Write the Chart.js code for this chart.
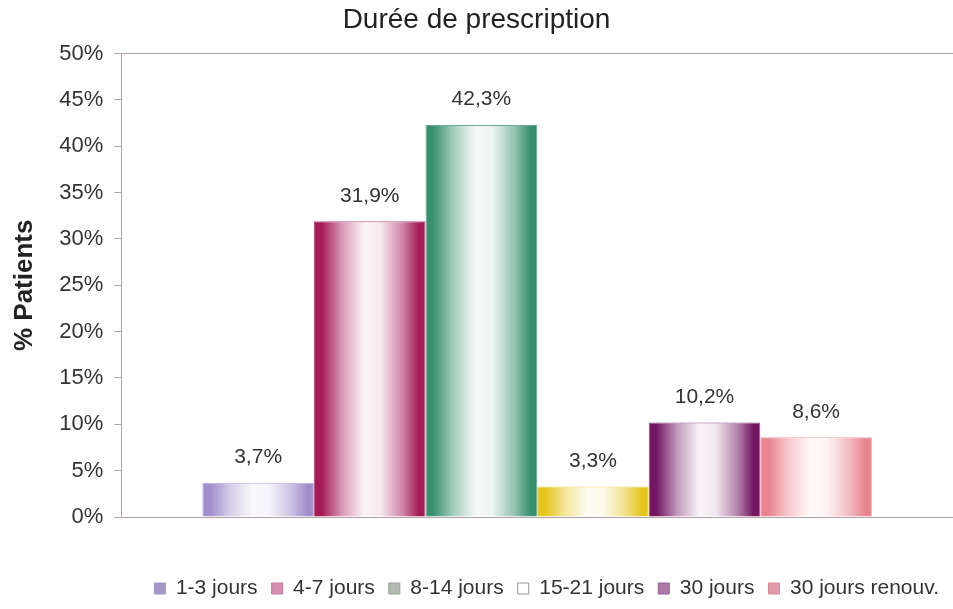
<!DOCTYPE html>
<html><head><meta charset="utf-8">
<script src="https://cdn.jsdelivr.net/npm/chart.js@4/dist/chart.umd.min.js"></script>
<style>html,body{margin:0;padding:0;background:#fff}#wrap{width:953px;height:609px;position:relative}</style>
</head><body><div id="wrap"><canvas id="c"></canvas></div>
<script>
const categories = ['Durée de prescription'];
const seriesNames = ['1-3 jours', '4-7 jours', '8-14 jours', '15-21 jours', '30 jours', '30 jours renouv.'];
const seriesValues = [3.7, 31.9, 42.3, 3.3, 10.2, 8.6];
const yTickMin = 0, yTickMax = 50, yTickStep = 5;

const barColors = ['#9f8fcb', '#a51b57', '#38906f', '#e4c51c', '#741763', '#e8848d'];
const legendColors = ['#a596c9', '#d68fae', '#b2bab2', '#ffffff', '#ad78a6', '#e39aa8'];
const legendBorders = ['#a596c9', '#c97a9c', '#98a098', '#9a9a9a', '#96608f', '#d8899a'];
const lineColor = '#b3a0ab';
const FONT = '"Liberation Sans", Arial, sans-serif';
const CAT_PCT = 0.805;

function mix(hex, t) {
  const n = parseInt(hex.slice(1), 16);
  const r = (n >> 16) & 255, g = (n >> 8) & 255, b = n & 255;
  const m = v => Math.round(v + (255 - v) * t);
  return `rgb(${m(r)},${m(g)},${m(b)})`;
}

function barFill(i) {
  return (ctx) => {
    const chart = ctx.chart, xs = chart.scales.x;
    if (!xs || !chart.chartArea) return barColors[i];
    const n = seriesNames.length;
    const group = xs.width * CAT_PCT;
    const bw = group / n;
    const left = xs.getPixelForValue(ctx.dataIndex || 0) - group / 2 + i * bw;
    const g = chart.ctx.createLinearGradient(left, 0, left + bw, 0);
    const c = barColors[i];
    g.addColorStop(0, c);
    g.addColorStop(0.07, c);
    g.addColorStop(0.25, mix(c, 0.55));
    g.addColorStop(0.45, mix(c, 0.95));
    g.addColorStop(0.6, mix(c, 0.9));
    g.addColorStop(0.8, mix(c, 0.45));
    g.addColorStop(0.94, c);
    g.addColorStop(1, c);
    return g;
  };
}

const datasets = seriesNames.map((name, i) => ({
  label: name,
  data: [seriesValues[i]],
  backgroundColor: barFill(i),
  borderColor: mix(barColors[i], 0.25),
  borderWidth: 1,
  borderSkipped: 'bottom'
}));

const valueLabels = {
  id: 'valueLabels',
  afterDatasetsDraw(chart) {
    const c = chart.ctx;
    c.save();
    c.font = '21px ' + FONT;
    c.fillStyle = '#333';
    c.textAlign = 'center';
    c.textBaseline = 'bottom';
    chart.data.datasets.forEach((ds, di) => {
      const meta = chart.getDatasetMeta(di);
      meta.data.forEach((el, j) => {
        const v = ds.data[j];
        c.fillText(v.toFixed(1).replace('.', ',') + '%', el.x, el.y - 15);
      });
    });
    c.restore();
  }
};

new Chart(document.getElementById('c'), {
  type: 'bar',
  data: { labels: categories, datasets },
  plugins: [valueLabels],
  options: {
    responsive: true,
    maintainAspectRatio: false,
    animation: false,
    layout: { padding: { left: 0, right: 0, top: 0, bottom: 0 } },
    datasets: { bar: { categoryPercentage: CAT_PCT, barPercentage: 1 } },
    plugins: {
      title: {
        display: true,
        text: 'Durée de prescription',
        color: '#222',
        font: { family: FONT, size: 28, weight: 'normal' },
        padding: { top: 3, bottom: 17 }
      },
      legend: {
        position: 'bottom',
        align: 'end',
        labels: {
          color: '#333',
          font: { family: FONT, size: 21 },
          boxWidth: 11,
          boxHeight: 11,
          padding: 14,
          generateLabels(chart) {
            const items = Chart.defaults.plugins.legend.labels.generateLabels(chart);
            items.forEach((it) => {
              it.fillStyle = legendColors[it.datasetIndex];
              it.strokeStyle = legendBorders[it.datasetIndex];
              it.lineWidth = 1;
            });
            return items;
          }
        }
      },
      tooltip: { enabled: false }
    },
    scales: {
      x: {
        grid: { display: false, drawTicks: false },
        border: { display: true, color: lineColor, width: 1 },
        ticks: { display: false },
        afterFit(scale) { scale.height = 47; }
      },
      y: {
        min: yTickMin,
        max: yTickMax,
        ticks: {
          stepSize: yTickStep,
          color: '#333',
          padding: 11,
          font: { family: FONT, size: 22 },
          callback: v => v + '%'
        },
        grid: {
          color: ctx => (ctx.tick && ctx.tick.value === yTickMax) ? lineColor : 'rgba(0,0,0,0)',
          tickColor: lineColor,
          tickLength: 7,
          drawTicks: true
        },
        border: { display: true, color: lineColor, width: 1 },
        title: {
          display: true,
          text: '% Patients',
          color: '#222',
          font: { family: FONT, size: 26, weight: 'bold' },
          padding: { top: 9, bottom: 8 }
        }
      }
    }
  }
});
</script>
</body></html>
